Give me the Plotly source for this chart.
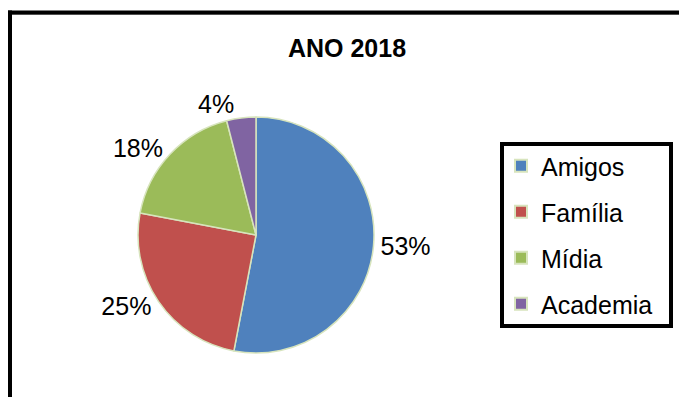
import plotly.graph_objects as go

labels = ["Amigos", "Família", "Mídia", "Academia"]
values = [53, 25, 18, 4]
colors = ["#4f81bd", "#c0504d", "#9bbb59", "#8064a2"]
title_text = "ANO 2018"

W, H = 679, 397
FONT = "Liberation Sans, Arial, sans-serif"
FS = 25

fig = go.Figure()

# pie centre (256,235) px, radius 118 px
cx, cy, r = 256, 235, 118
fig.add_trace(go.Pie(
    labels=labels, values=values,
    marker=dict(colors=colors, line=dict(color="#d7e4bd", width=1.5)),
    sort=False, direction="clockwise", rotation=0,
    textposition="outside", texttemplate="%{percent:.0%}",
    textfont=dict(family=FONT, size=FS, color="black"),
    showlegend=False, hoverinfo="label+percent",
    domain=dict(x=[(cx - r) / W, (cx + r) / W],
                y=[(H - cy - r) / H, (H - cy + r) / H]),
))

for i, (lab, col) in enumerate(zip(labels, colors)):
    fig.add_trace(go.Scatter(
        x=[None], y=[None], mode="markers", name=lab,
        legendgroup=f"g{i}",
        marker=dict(symbol="square", size=12, color=col,
                    line=dict(color="#d7e4bd", width=2)),
    ))

fig.update_layout(
    width=W, height=H,
    margin=dict(l=0, r=0, t=0, b=0),
    paper_bgcolor="white", plot_bgcolor="white",
    xaxis=dict(visible=False), yaxis=dict(visible=False),
    font=dict(family=FONT, color="black"),
    title=dict(text=f"<b>{title_text}</b>", x=347 / W, y=1 - 48 / H,
               xanchor="center", yanchor="middle",
               font=dict(family=FONT, size=FS, color="black")),
    legend=dict(x=505 / W, y=1 - 143 / H, xanchor="left", yanchor="top",
                borderwidth=0, bgcolor="rgba(0,0,0,0)",
                font=dict(family=FONT, size=FS, color="black"),
                tracegroupgap=10.5, itemsizing="trace", indentation=-4),
    shapes=[
        # outer chart frame (left + top edges with light shadow)
        dict(type="line", xref="paper", yref="paper",
             x0=10 / W, x1=1, y0=1 - 14.5 / H, y1=1 - 14.5 / H,
             line=dict(color="#a0a0a0", width=1)),
        dict(type="line", xref="paper", yref="paper",
             x0=8 / W, x1=1, y0=1 - 12.5 / H, y1=1 - 12.5 / H,
             line=dict(color="black", width=4)),
        dict(type="line", xref="paper", yref="paper",
             x0=10 / W, x1=10 / W, y0=0, y1=1 - 10.5 / H,
             line=dict(color="black", width=4)),
        # legend frame
        dict(type="rect", xref="paper", yref="paper",
             x0=502 / W, x1=671 / W, y0=1 - 326 / H, y1=1 - 144 / H,
             line=dict(color="black", width=4), fillcolor="rgba(0,0,0,0)"),
    ],
)

fig.write_html("out.html")
